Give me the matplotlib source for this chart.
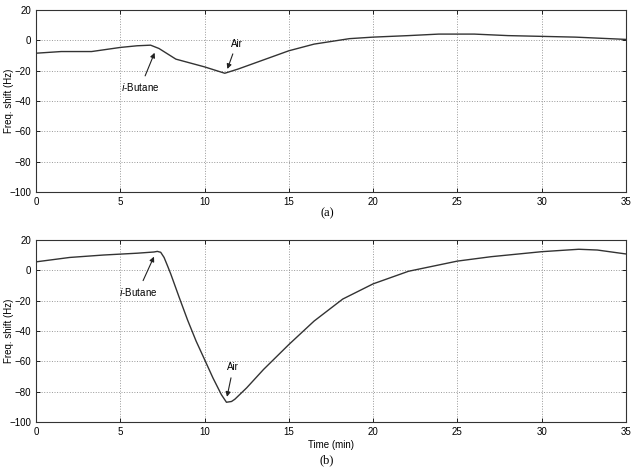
import matplotlib.pyplot as plt
import numpy as np

plt.rcParams['font.family'] = ['Liberation Sans', 'DejaVu Sans']

# (a) frequency shift, top panel
t_a = [0, 1.5, 3.3, 5, 6, 6.8, 7.3, 8.3, 10, 11.2, 12, 13.5, 15, 16.5,
       18.6, 20, 22.1, 23.9, 26, 28, 30, 32, 35]
f_a = [-8.6, -7.5, -7.5, -4.8, -3.7, -3.3, -5.5, -12.5, -17.6, -21.8, -19, -13, -7, -2.6,
       1, 2, 3, 4, 4, 3, 2.5, 2, 0.5]

# (b) frequency shift, bottom panel
t_b = [0, 2, 4, 6, 7, 7.2, 7.4, 7.6, 7.8, 8, 8.5, 9, 9.5, 10, 10.5, 11, 11.3, 11.6, 11.8,
       12.5, 13.5, 15, 16.5, 18.2, 20, 22.1, 25, 27, 30, 32.2, 33.3, 35]
f_b = [5.5, 8.4, 10, 11.2, 12, 12.4, 11.8, 8.4, 3, -2.6, -18, -33, -46.7, -58.8, -71, -82,
       -87, -86.5, -85, -77.5, -65.4, -49, -33.5, -19, -9, -0.7, 6, 8.9, 12.2, 13.8, 13.3, 10.7]

xticks = [0, 5, 10, 15, 20, 25, 30, 35]
yticks = [-100, -80, -60, -40, -20, 0, 20]

fig = plt.figure(figsize=(6.31, 4.67), dpi=100)
ax1 = fig.add_axes([0.057, 0.589, 0.935, 0.390])
ax2 = fig.add_axes([0.057, 0.0964, 0.935, 0.390])

for ax in (ax1, ax2):
    ax.set_xlim(0, 35)
    ax.set_ylim(-100, 20)
    ax.set_xticks(xticks)
    ax.set_yticks(yticks)
    ax.grid(True, linestyle=':', color='#999999', linewidth=0.7)
    ax.tick_params(direction='in', top=True, right=True, labelsize=7, length=3, width=0.6)
    for s in ax.spines.values():
        s.set_linewidth(0.8)
        s.set_color('#333333')
    ax.set_ylabel('Freq. shift (Hz)', fontsize=7)
    ax.yaxis.set_label_coords(-0.037, 0.5)

ax1.plot(t_a, f_a, color='#333333', lw=1.0)
ax2.plot(t_b, f_b, color='#333333', lw=1.0)

arrow = dict(arrowstyle='-|>', color='#222222', lw=0.8, mutation_scale=7)
ax1.annotate(r'$i$-Butane', xy=(7.1, -6.6), xytext=(6.2, -31), fontsize=7,
             ha='center', va='center', arrowprops=arrow)
ax1.annotate('Air', xy=(11.3, -20.7), xytext=(11.9, -2.2), fontsize=7,
             ha='center', va='center', arrowprops=arrow)
ax2.annotate(r'$i$-Butane', xy=(7.07, 10.6), xytext=(6.05, -14.3), fontsize=7,
             ha='center', va='center', arrowprops=arrow)
ax2.annotate('Air', xy=(11.3, -85.2), xytext=(11.7, -64), fontsize=7,
             ha='center', va='center', arrowprops=arrow)

ax2.set_xlabel('Time (min)', fontsize=7, labelpad=2)

fig.text(0.518, 0.544, '(a)', fontsize=9, family='Liberation Serif', ha='center', va='center')
fig.text(0.518, 0.015, '(b)', fontsize=9, family='Liberation Serif', ha='center', va='center')

fig.savefig('out.png', dpi=100)
